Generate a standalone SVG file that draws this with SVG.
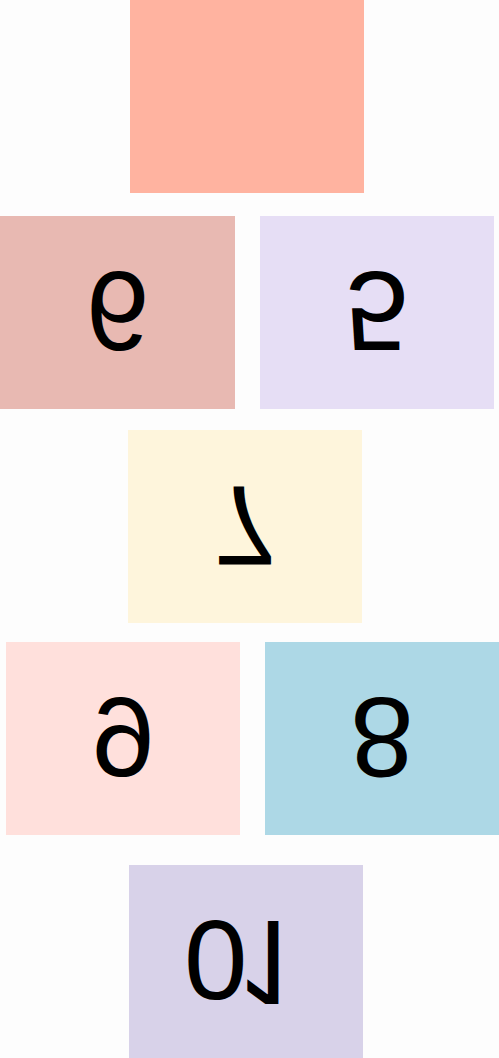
<svg xmlns="http://www.w3.org/2000/svg" width="499" height="1058" viewBox="0 0 499 1058">
<style>
.lbl{font-family:"Liberation Sans",Arial,sans-serif;font-size:114px;fill:#000;text-anchor:middle}
.st{text-anchor:start}
.one{font-family:Inter,"Liberation Sans",sans-serif}
</style>
<rect width="499" height="1058" fill="#fdfdfd"/>
<g id="node-top"><rect x="130" y="0" width="234" height="193" fill="#ffb3a0"/></g>
<g id="node-6"><rect x="0" y="216" width="235" height="193" fill="#e8b9b2"/><text class="lbl" x="117.5" y="353.5" transform="matrix(1 0 0 -1 0 625)">6</text></g>
<g id="node-5"><rect x="260" y="216" width="234" height="193" fill="#e6def5"/><text class="lbl" x="377" y="353.5" transform="matrix(1 0 0 -1 0 625)">5</text></g>
<g id="node-7"><rect x="128" y="430" width="234" height="193" fill="#fef5dc"/><text class="lbl" x="245" y="567.5" transform="matrix(1 0 0 -1 0 1053)">7</text></g>
<g id="node-9"><rect x="6" y="642" width="234" height="193" fill="#ffe0dc"/><text class="lbl" x="123" y="779.5" transform="matrix(1 0 0 -1 0 1477)">9</text></g>
<g id="node-8"><rect x="265" y="642" width="234" height="193" fill="#add8e6"/><text class="lbl" x="382" y="779.5" transform="matrix(1 0 0 -1 0 1477)">8</text></g>
<g id="node-10"><rect x="129" y="865" width="234" height="193" fill="#d8d2e9"/><text class="lbl st" y="1003" transform="matrix(1 0 0 -1 0 1924)"><tspan class="one" x="242">1</tspan><tspan x="184">0</tspan></text></g>
<g id="connectors"></g>
</svg>
